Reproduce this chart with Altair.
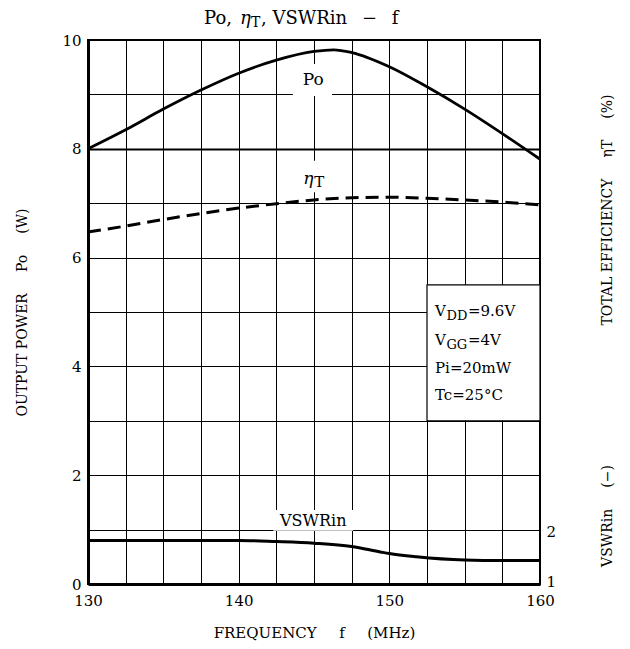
import altair as alt
import pandas as pd

FONT = "DejaVu Serif"

# ---- data ----
# Output power Po (W)
freq_po = [130, 132.5, 135, 137.5, 140, 142.5, 145, 146.3, 147.5, 150, 152.5, 155, 157.5, 160]
po_w = [8.00, 8.35, 8.73, 9.08, 9.39, 9.63, 9.79, 9.82, 9.77, 9.51, 9.14, 8.73, 8.28, 7.81]

# Total efficiency curve, as read against the left grid (right scale has no numbers)
freq_eta = [130, 132.5, 135, 137.5, 140, 142.5, 145, 147.5, 150, 152.5, 155, 157.5, 160]
eta_t = [6.47, 6.58, 6.70, 6.81, 6.91, 6.99, 7.06, 7.10, 7.11, 7.09, 7.06, 7.02, 6.97]

# Input VSWR (-)
freq_vswr = [130, 135, 140, 142.5, 145, 147.5, 149.4, 150, 151.8, 155, 157.5, 160]
vswr_in = [1.80, 1.80, 1.80, 1.78, 1.75, 1.69, 1.59, 1.56, 1.50, 1.44, 1.43, 1.43]

# axis ticks / grid
x_grid = [130, 132.5, 135, 137.5, 140, 142.5, 145, 147.5, 150, 152.5, 155, 157.5, 160]
y_grid = [0, 0.5, 1, 1.5, 2, 2.5, 3, 3.5, 4, 4.5, 5, 5.5, 6, 6.5, 7, 7.5, 8, 8.5, 9, 9.5, 10]
vswr_ticks = [1, 2]

# conditions box text
cond_main = ["V", "V", "Pi=20mW", "Tc=25°C"]
cond_sub = ["DD", "GG", "", ""]
cond_rest = ["=9.6V", "=4V", "", ""]

title_parts = ["Po,", "η", "T", ",  VSWRin \u2002−\u2002 f"]
x_title = "FREQUENCY\u2003\u2002f\u2003\u2002(MHz)"
y_title = "OUTPUT POWER\u2003\u2002Po\u2003\u2002(W)"
eta_title = "TOTAL EFFICIENCY\u2003\u2002ηT\u2003\u2002(%)"
vswr_title = "VSWRin\u2003\u2002(−)"

# ---- scales / axes ----
xs = alt.Scale(domain=[130, 160], nice=False, zero=False)
ys = alt.Scale(domain=[0, 10], nice=False, zero=False)

ax_x = alt.Axis(values=x_grid, labelExpr="datum.value % 10 == 0 ? datum.label : ''",
                grid=True, gridColor="black", gridWidth=1, ticks=False,
                domainColor="black", domainWidth=3, labelFont=FONT, labelFontSize=15,
                labelColor="black", labelPadding=9, labelFlush=False, labelOverlap=False,
                title=x_title, titleFont=FONT, titleFontSize=15, titleFontWeight="normal",
                titleColor="black", titleX=226, titleY=48, titleBaseline="middle",
                titleAlign="center", format="d")
ax_y = alt.Axis(values=y_grid, labelExpr="datum.value % 2 == 0 ? datum.label : ''",
                grid=True, gridColor="black",
                gridWidth=alt.condition("datum.value == 8", alt.value(2), alt.value(1)),
                ticks=False,
                domainColor="black", domainWidth=3, labelFont=FONT, labelFontSize=15,
                labelColor="black", labelPadding=7, labelOverlap=False, format="d",
                title=y_title, titleFont=FONT, titleFontSize=14, titleFontWeight="normal",
                titleColor="black", titleX=-66, titleY=272, titleAngle=270,
                titleBaseline="middle", titleAlign="center")


def X():
    return alt.X("f:Q", scale=xs, axis=ax_x)


def Y():
    return alt.Y("w:Q", scale=ys, axis=ax_y)


def txt(text, fx, wy, dx=0, dy=0, size=16, style="normal", align="left"):
    return alt.Chart(pd.DataFrame({"f": [fx], "w": [wy]})).mark_text(
        text=text, dx=dx, dy=dy, fontSize=size, font=FONT, fontStyle=style,
        align=align, baseline="middle", color="black"
    ).encode(x=X(), y=Y())


def box(f1, f2, w1, w2, stroke=None):
    kw = dict(fill="white", opacity=1)
    if stroke:
        kw.update(stroke=stroke, strokeWidth=1.2)
    return alt.Chart(pd.DataFrame({"f": [f1], "f2": [f2], "w": [w1], "w2": [w2]})).mark_rect(**kw).encode(
        x=X(), x2="f2:Q", y=Y(), y2="w2:Q")


side = pd.DataFrame({"a": [0]})


def free_text(text, px, py, size=14, angle=0, style="normal", align="center"):
    kw = dict(text=text, font=FONT, fontSize=size, fontStyle=style, align=align,
              baseline="middle", color="black")
    if angle:
        kw["angle"] = angle
    return alt.Chart(side).mark_text(**kw).encode(x=alt.value(px), y=alt.value(py))


df_po = pd.DataFrame({"f": freq_po, "w": po_w})
df_eta = pd.DataFrame({"f": freq_eta, "w": eta_t})
df_vswr = pd.DataFrame({"f": freq_vswr, "v": vswr_in})

po_line = alt.Chart(df_po).mark_line(color="black", strokeWidth=2.8, interpolate="monotone").encode(x=X(), y=Y())
eta_line = alt.Chart(df_eta).mark_line(color="black", strokeWidth=3, strokeDash=[13, 7],
                                       interpolate="monotone").encode(x=X(), y=Y())

layers = [
    box(143.6, 146.2, 8.97, 9.56),      # behind "Po"
    box(143.5, 146.3, 7.2, 7.78),       # behind "ηT"
    box(142.3, 147.6, 0.98, 1.36),      # behind "VSWRin"
    box(152.5, 160, 3.0, 5.5, stroke="black"),  # conditions box
    eta_line,
    po_line,
    txt("Po", 144.95, 9.27, size=17, align="center"),
    txt("η", 144.95, 7.45, dx=-5, size=17, style="italic", align="center"),
    txt("T", 144.95, 7.45, dx=6, dy=3, size=15, align="center"),
    txt("VSWRin", 144.95, 1.16, size=16, align="center"),
]

row_w = [5.02, 4.49, 3.97, 3.47]
for i in range(4):
    layers.append(txt(cond_main[i], 153.03, row_w[i], size=15))
    if cond_sub[i]:
        layers.append(txt(cond_sub[i], 153.03, row_w[i], dx=11.5, dy=5, size=13))
        layers.append(txt(cond_rest[i], 153.03, row_w[i], dx=33, size=15))

# right-hand titles (rotated text outside plot area)
layers.append(free_text(eta_title, 520, 170, angle=270))
layers.append(free_text(vswr_title, 520, 476, angle=270))

# chart title with subscript
TY = -21
layers.append(free_text(title_parts[0], 116, TY, size=18, align="left"))
layers.append(free_text(title_parts[1], 152, TY, size=18, style="italic", align="left"))
layers.append(free_text(title_parts[2], 163, TY + 4, size=14, align="left"))
layers.append(free_text(title_parts[3], 173, TY, size=18, align="left"))

main = alt.layer(*layers)

vswr_line = alt.Chart(df_vswr).mark_line(color="black", strokeWidth=3, interpolate="monotone").encode(
    x=X(),
    y=alt.Y("v:Q", scale=alt.Scale(domain=[1, 11], nice=False, zero=False),
            axis=alt.Axis(orient="right", values=vswr_ticks, title=None, grid=False, ticks=False,
                          domain=False, labelFont=FONT, labelFontSize=15, labelColor="black",
                          labelPadding=6, labelAlign="left", labelOverlap=False, format="d",
                          labelOffset=alt.condition("datum.value == 1", alt.value(-3), alt.value(2)))),
)

chart = alt.layer(main, vswr_line).resolve_scale(y="independent").properties(
    width=452, height=544,
    autosize=alt.AutoSizeParams(type="none"),
    padding={"left": 80, "top": 32, "right": 82, "bottom": 57},
).configure_view(stroke="black", strokeWidth=2)

chart.save("out.html", embed_options={"renderer": "svg", "actions": False})
